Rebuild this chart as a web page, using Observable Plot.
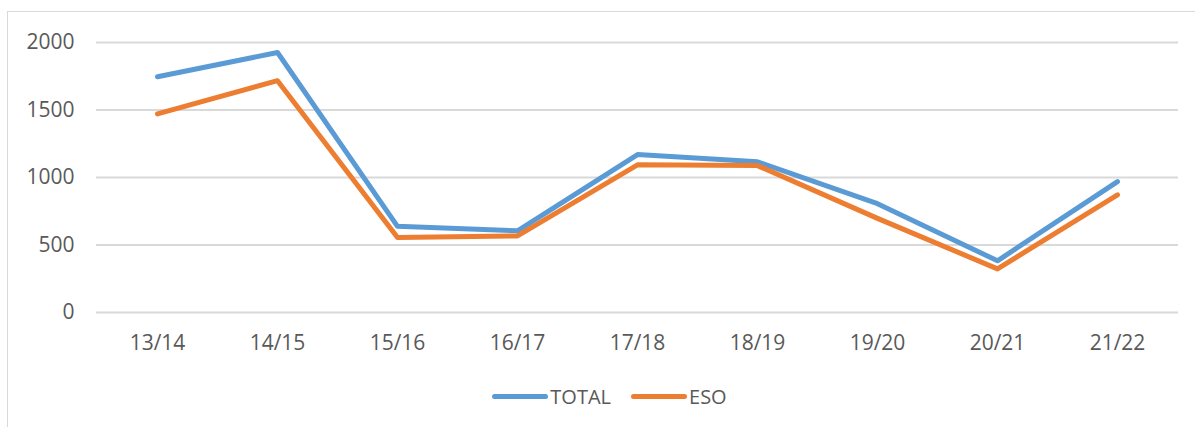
<!DOCTYPE html>
<html>
<head>
<meta charset="utf-8">
<script src="https://cdn.jsdelivr.net/npm/d3@7"></script>
<script src="https://cdn.jsdelivr.net/npm/@observablehq/plot@0.6"></script>
<style>
  html, body { margin: 0; padding: 0; background: #fff; overflow: hidden; }
  #wrap { position: relative; width: 1195px; height: 427px; font-family: "Open Sans", sans-serif; }
  #frame { position: absolute; left: 7px; top: 11px; width: 1300px; height: 500px; border: 1.5px solid #d9d9d9; box-sizing: border-box; }
  #chart { position: absolute; left: 0; top: 0; }
  #legend { position: absolute; left: 0; top: 383px; width: 1195px; display: flex; justify-content: center; gap: 20px; padding-left: 24px; box-sizing: border-box; font-size: 20px; color: #595959; }
  .item { display: flex; align-items: center; }
  .swatch { display: inline-block; width: 56px; height: 5px; border-radius: 3px; margin-right: 2px; }
</style>
</head>
<body>
<div id="wrap">
  <div id="frame"></div>
  <div id="chart"></div>
  <div id="legend"></div>
</div>
<script>
const seasons = ["13/14", "14/15", "15/16", "16/17", "17/18", "18/19", "19/20", "20/21", "21/22"];
const totalValues = [1746, 1926, 638, 605, 1170, 1116, 806, 383, 970];
const esoValues = [1471, 1717, 556, 567, 1094, 1088, 697, 323, 872];
const seriesNames = ["TOTAL", "ESO"];
const seriesColors = ["#5b9bd5", "#ed7d31"];
const yTicks = [0, 500, 1000, 1500, 2000];

const data = [];
seasons.forEach((s, i) => data.push({season: s, value: totalValues[i], series: "TOTAL"}));
seasons.forEach((s, i) => data.push({season: s, value: esoValues[i], series: "ESO"}));

const chart = Plot.plot({
  width: 1195,
  height: 370,
  marginLeft: 96,
  marginRight: 17,
  marginTop: 42,
  marginBottom: 58,
  style: { fontFamily: "'Open Sans', sans-serif", fontSize: "21px", color: "#595959", background: "transparent" },
  x: { type: "point", domain: seasons, padding: 0.5, label: null, tickSize: 0, tickPadding: 23 },
  y: { domain: [0, 2000], ticks: yTicks, tickFormat: d => String(d), label: null, tickSize: 0, tickPadding: 22 },
  color: { domain: seriesNames, range: seriesColors },
  marks: [
    Plot.ruleY(yTicks, { stroke: "#d9d9d9", strokeWidth: 2 }),
    Plot.line(data, {
      x: "season", y: "value", z: "series", stroke: "series",
      strokeWidth: 5, strokeLinejoin: "round", strokeLinecap: "round"
    })
  ]
});
chart.querySelectorAll("text").forEach(t => t.setAttribute("fill", "#595959"));
document.getElementById("chart").appendChild(chart);

const legend = document.getElementById("legend");
seriesNames.forEach((name, i) => {
  const item = document.createElement("div");
  item.className = "item";
  const sw = document.createElement("span");
  sw.className = "swatch";
  sw.style.background = seriesColors[i];
  item.appendChild(sw);
  const label = document.createElement("span");
  label.textContent = name;
  item.appendChild(label);
  legend.appendChild(item);
});
</script>
</body>
</html>
